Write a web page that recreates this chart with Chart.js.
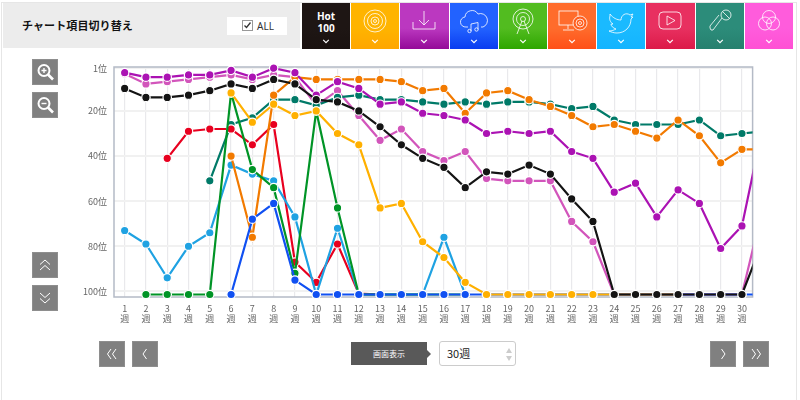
<!DOCTYPE html>
<html lang="ja">
<head>
<meta charset="utf-8">
<title>チャート</title>
<script src="https://cdn.jsdelivr.net/npm/chart.js@4"></script>
<style>
  html, body { margin: 0; padding: 0; background: #fff; }
  body { width: 800px; height: 400px; position: relative; overflow: hidden; font-family: "Noto Sans CJK JP", "Noto Sans", sans-serif; }
  .abs { position: absolute; }
  #frame { left: 1px; top: 2px; width: 796px; height: 400px; border: 1px solid #e6e6e6; box-sizing: border-box; }
  #band { left: 3px; top: 3px; width: 297px; height: 45px; background: #ececec; }
  #title { left: 22px; top: 17px; font-size: 11px; line-height: 16px; font-weight: 700; color: #111; letter-spacing: .1px; white-space: nowrap; }
  #all { left: 227px; top: 17px; width: 60px; height: 18px; background: #fff; }
  #all svg { position: absolute; left: 15px; top: 3px; }
  #all span { position: absolute; left: 30px; top: 1px; font: 10px/16px "Noto Sans", sans-serif; color: #333; }
  .tab { position: absolute; top: 3px; width: 48.2px; height: 46px; color: #fff; text-align: center; }
  .tab svg.ico { position: absolute; left: 8px; top: 4px; width: 32px; height: 28px; fill: none; stroke: #fff; stroke-width: .8; }
  .tab svg.chev { position: absolute; left: 20px; top: 36px; width: 8px; height: 5px; fill: none; stroke: #fff; stroke-width: 1.5; }
  .hot { position: absolute; left: 0; width: 100%; top: 7px; font: 700 10px/12px "Noto Sans", sans-serif; }
  .btn { position: absolute; width: 26px; height: 26px; background: #808080; border: 1px solid #8e8e8e; box-sizing: border-box; }
  .btn svg { position: absolute; left: 0; top: 0; width: 24px; height: 24px; fill: none; stroke: #fff; stroke-width: 1; }
  #wrap { left: 70px; top: 60px; width: 688px; height: 280px; }
  #disp { left: 351px; top: 342px; width: 76px; height: 23px; background: #595959; color: #fff; font-size: 8px; line-height: 23px; text-align: center; }
  #tip { left: 427px; top: 350px; width: 0; height: 0; border-left: 4px solid #595959; border-top: 4px solid transparent; border-bottom: 4px solid transparent; }
  #sel { left: 439px; top: 341px; width: 77px; height: 25px; box-sizing: border-box; border: 1px solid #ccc; border-radius: 3px; background: #fff; font-size: 11px; line-height: 23px; padding-left: 7px; color: #222; }
  #sel i { position: absolute; left: 66px; width: 0; height: 0; border-left: 3px solid transparent; border-right: 3px solid transparent; }
</style>
</head>
<body>
<div class="abs" id="frame"></div>
<div class="abs" id="band"></div>
<div class="abs" id="title">チャート項目切り替え</div>
<div class="abs" id="all">
  <svg width="11" height="11"><rect x=".5" y=".5" width="10" height="10" fill="#fff" stroke="#999"/><path d="M2.5 5.5l2 2 4-5" fill="none" stroke="#333" stroke-width="1.3"/></svg>
  <span>ALL</span>
</div>
<div id="tabs"></div>

<div class="btn" style="left:32px;top:59px"><svg viewBox="0 0 24 24"><circle cx="11" cy="10.5" r="5.5" stroke-width="2"/><path d="M15 14.5l5 5" stroke-width="2.6"/><path d="M8.5 10.5h5M11 8v5" stroke-width="1.4"/></svg></div>
<div class="btn" style="left:32px;top:92px"><svg viewBox="0 0 24 24"><circle cx="11" cy="10.5" r="5.5" stroke-width="2"/><path d="M15 14.5l5 5" stroke-width="2.6"/><path d="M8.5 10.5h5" stroke-width="1.4"/></svg></div>
<div class="btn" style="left:32px;top:252px"><svg viewBox="0 0 24 24"><path d="M7 11.500l5-4.500 5 4.500M7 17l5-4.500 5 4.500"/></svg></div>
<div class="btn" style="left:32px;top:285px"><svg viewBox="0 0 24 24"><path d="M7 7l5 4.500 5-4.500M7 12.500l5 4.500 5-4.500"/></svg></div>

<div class="abs" id="wrap"><canvas id="chart"></canvas></div>

<div class="btn" style="left:99px;top:341px"><svg viewBox="0 0 24 24"><path d="M11 7l-3.500 5 3.500 5M16 7l-3.500 5 3.500 5"/></svg></div>
<div class="btn" style="left:132px;top:341px"><svg viewBox="0 0 24 24"><path d="M13.500 7l-3.500 5 3.500 5"/></svg></div>
<div class="abs" id="disp">画面表示</div>
<div class="abs" id="tip"></div>
<div class="abs" id="sel">30週<i style="top:6px;border-bottom:5px solid #ccc"></i><i style="top:14px;border-top:5px solid #ccc"></i></div>
<div class="btn" style="left:710px;top:341px"><svg viewBox="0 0 24 24"><path d="M10.500 7l3.500 5-3.500 5"/></svg></div>
<div class="btn" style="left:743px;top:341px"><svg viewBox="0 0 24 24"><path d="M8 7l3.500 5-3.500 5M13 7l3.500 5-3.500 5"/></svg></div>

<script>
// 31st week sits outside the window, only its line shows up clipped at the right edge
const weeks = [];
for (let i = 1; i <= 31; i++) weeks.push([String(i), "週"]);
const visibleWeeks = 30;
const rankTicks = [1, 20, 40, 60, 80, 100];

const _ = null, o = 101.4; // o = out of chart, drawn below 100位

const hot100   = [10, 14, 14, 13, 11, 8, 10, 6, 8, 15, 16, 20, 27, 35, 41, 45, 54, 47, 48, 44, 48, 59, 69, o, o, o, o, o, o, o, 77];
const sales    = [_, _, _, _, _, 12, 25, 17, 22, 20, 30, 35, 63, 61, 78, 85, 96, o, o, o, o, o, o, o, o, o, o, _, _, _, _];
const download = [3, 5, 5, 4, 4, 2, 5, 1, 3, 13, 7, 10, 17, 16, 21, 22, 24, 30, 29, 30, 29, 38, 41, 56, 52, 67, 55, 61, 81, 71, 26];
const stream   = [_, _, _, _, _, o, 68, 61, 95, o, o, o, o, o, o, o, o, o, o, o, o, o, o, o, o, o, o, o, o, o, o];
const radio    = [_, o, o, o, o, 12, 46, 54, 92, 20, 63, o, o, o, o, o, o, _, _, _, _, _, _, _, _, _, _, _, _, _, _];
const lookup   = [_, _, _, _, _, 40, 76, 13, 5, 6, 6, 6, 6, 7, 11, 10, 21, 12, 11, 15, 18, 22, 27, 26, 29, 32, 24, 31, 43, 37, 37];
const twitter  = [73, 79, 94, 80, 74, 44, 48, 51, 67, o, 72, o, o, o, o, 76, o, _, _, _, _, _, _, _, _, _, _, _, _, _, _];
const youtube  = [_, _, 41, 29, 28, 28, 35, 26, 87, 96, 79, 101, o, _, _, _, _, _, _, _, _, _, _, _, _, _, _, _, _, _, _];
const karaoke  = [_, _, _, _, 51, 26, 23, 15, 15, 17.5, 14, 13, 15, 15, 16, 17, 16, 17, 16, 16, 17, 19, 18, 24, 26, 26, 26, 24, 31, 30, 29];
const gyao     = [3.5, 8, 7, 6, 5, 4, 6, 4, 5, 17.5, 11, 22, 33, 28, 38, 42, 38, 50, 51, 51, 51, 69, 78, o, o, o, o, o, o, o, 62];

// first in the list ends up on top
const seriesList = [
  ["Hot 100", hot100, "#141414"],
  ["CD", sales, "#ffb000"],
  ["DL", download, "#ab12b3"],
  ["Stream", stream, "#1050f2"],
  ["Radio", radio, "#009426"],
  ["Lookup", lookup, "#f27a00"],
  ["Twitter", twitter, "#1fa2e2"],
  ["YouTube", youtube, "#e8001f"],
  ["Karaoke", karaoke, "#007a68"],
  ["Other", gyao, "#d255bb"]
];

// header tabs
const tabColors = [
  ["#1e1614", "#1a1210"], ["#ffb400", "#ffa600"], ["#bb38c0", "#940a98"], ["#2262ff", "#0a3cf0"], ["#52bc20", "#2ea600"],
  ["#ff6c2c", "#ff5018"], ["#1abaff", "#14b4ff"], ["#e83060", "#dc1a48"], ["#2c8c7a", "#26806e"], ["#ff5cdc", "#ff50d4"]
];
const tabIcons = [
  "",
  '<circle cx="16" cy="14" r="11"/><circle cx="16" cy="14" r="7.5"/><circle cx="16" cy="14" r="4"/><circle cx="16" cy="14" r="1.5"/>',
  '<path d="M16 4v14M11 13l5 5 5-5M5 15v7h22v-7"/>',
  '<path d="M10 20h-2a5 5 0 0 1-1-10 7 7 0 0 1 13-3 6 6 0 0 1 5 13h-2"/><path d="M13 24v-7l7-1.500v7"/><circle cx="11.500" cy="24" r="1.700"/><circle cx="18.500" cy="22.500" r="1.700"/>',
  '<circle cx="16" cy="12" r="10"/><circle cx="16" cy="12" r="6.500"/><circle cx="16" cy="12" r="2.500"/><path d="M15 14l-5 13M17 14l5 13"/>',
  '<rect x="3" y="4" width="19" height="14"/><path d="M12 18v4M7 23h11"/><circle cx="24" cy="16" r="7" fill="#ff6020"/><circle cx="24" cy="16" r="4"/><circle cx="24" cy="16" r="1.500"/>',
  '<path d="M5 7c3 4 7 6 11 6 0-5 5-8 9-5l3-1-2 3 2 0-2 2c0 8-6 14-14 14-3 0-6-1-8-2 3 0 5-1 7-2-3-1-5-3-5-5h2c-3-2-4-5-3-8z"/>',
  '<rect x="5" y="5" width="22" height="17" rx="4"/><path d="M13 9l8 4.500-8 4.500z"/>',
  '<circle cx="22" cy="8" r="5"/><path d="M18 11l-9 12-2 0-1-2 0-2 9-11M18.500 4.500l7 7"/>',
  '<circle cx="16" cy="10" r="6.500"/><circle cx="12" cy="16.500" r="6.500"/><circle cx="20" cy="16.500" r="6.500"/>'
];
let tabHtml = "";
tabColors.forEach((c, i) => {
  const left = 302 + i * 49.2;
  const inner = i === 0
    ? '<div class="hot">Hot<br>100</div>'
    : `<svg class="ico" viewBox="0 0 32 28">${tabIcons[i]}</svg>`;
  tabHtml += `<div class="tab" style="left:${left}px;background:linear-gradient(${c[0]},${c[0]} 55%,${c[1]})">${inner}<svg class="chev" viewBox="0 0 10 6"><path d="M1.500 1l3.500 3.500L8.500 1"/></svg></div>`;
});
document.getElementById("tabs").innerHTML = tabHtml;

// plot border on all four sides
const plotBorder = {
  id: "plotBorder",
  beforeDatasetsDraw(chart) {
    const a = chart.chartArea, ctx = chart.ctx;
    ctx.save();
    ctx.strokeStyle = "#b4bac6";
    ctx.lineWidth = 1.5;
    ctx.strokeRect(a.left, a.top, a.right - a.left, a.bottom - a.top);
    ctx.restore();
  }
};

new Chart(document.getElementById("chart"), {
  type: "line",
  data: {
    labels: weeks,
    datasets: seriesList.map(s => ({
      label: s[0],
      data: s[1],
      borderColor: s[2],
      backgroundColor: s[2],
      borderWidth: 2.2,
      pointRadius: 4.2,
      pointBorderColor: "#fff",
      pointBorderWidth: 1.2,
      tension: 0,
      clip: { left: false, top: false, right: 0, bottom: false }
    }))
  },
  options: {
    responsive: true,
    maintainAspectRatio: false,
    animation: false,
    layout: { padding: { top: 7, right: 2, left: 0, bottom: 0 } },
    plugins: { legend: { display: false }, tooltip: { enabled: false } },
    scales: {
      x: {
        offset: true,
        // cut the window here and not with options.max, or the line to week 31 is dropped
        afterDataLimits: s => { s.max = visibleWeeks - 1; },
        afterFit: s => { s.height = 43; s.paddingLeft = 0; s.paddingRight = 0; },
        grid: { color: "#e9e9ec", lineWidth: 1.2, offset: false, drawTicks: false },
        border: { display: false },
        ticks: { color: "#666", autoSkip: false, maxRotation: 0, padding: 6, font: { family: "'Noto Sans CJK JP'", size: 9, lineHeight: 1.15 } }
      },
      y: {
        reverse: true,
        min: 0.5,
        max: 102.5,
        afterFit: s => { s.width = 44; s.paddingTop = 0; s.paddingBottom = 0; },
        afterBuildTicks: s => { s.ticks = rankTicks.map(v => ({ value: v })); },
        grid: { color: "#f1f1f1", lineWidth: 2, drawTicks: false },
        border: { display: false },
        ticks: { color: "#666", padding: 7, callback: v => v + "位", font: { family: "'Noto Sans CJK JP'", size: 9 } }
      }
    }
  },
  plugins: [plotBorder]
});
</script>
</body>
</html>
